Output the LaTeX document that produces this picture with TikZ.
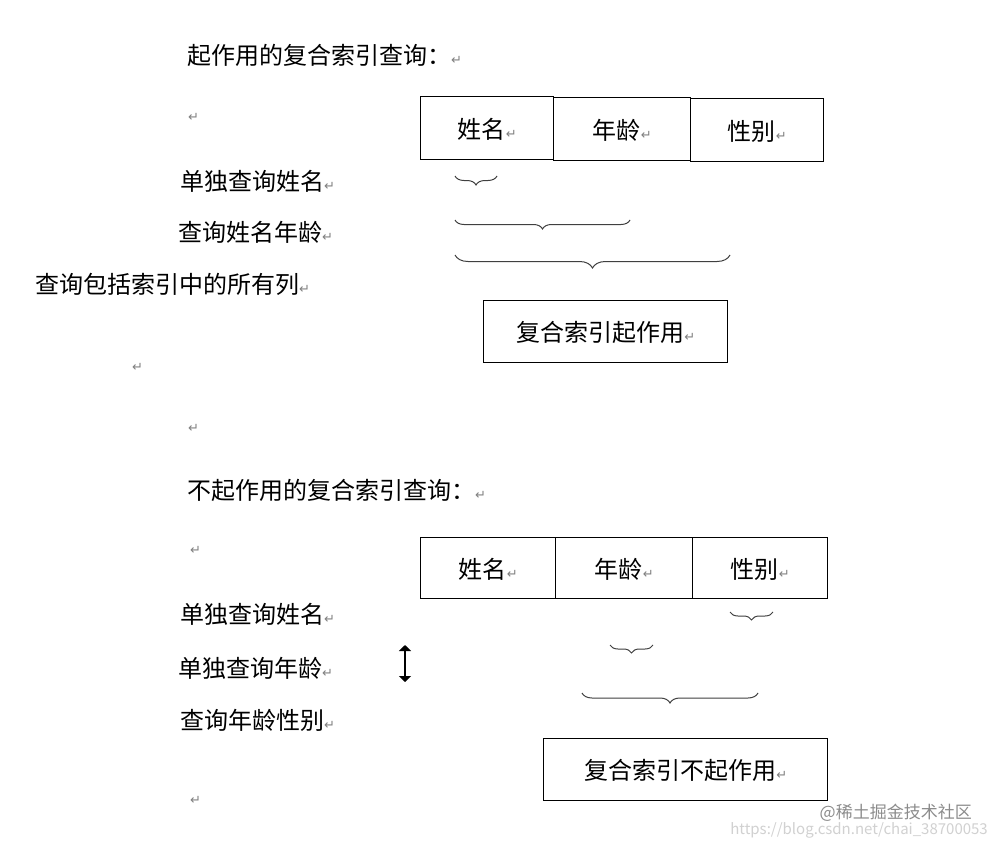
\documentclass[tikz,border=0pt]{standalone}
\usepackage{fontspec}
\setmainfont{Noto Sans CJK SC}
\newfontfamily\symf{DejaVu Sans}
\usetikzlibrary{decorations.pathreplacing,arrows.meta}
\newcommand{\ret}{{\symf\fontsize{13}{13}\selectfont\color{gray}↵}}
\tikzset{
 txt/.style={anchor=west,inner sep=0pt,font=\fontsize{24}{26}\selectfont},
 cell/.style={draw,line width=1.4pt,minimum height=63pt,anchor=north west,inner sep=0pt,font=\fontsize{24}{26}\selectfont,text depth=0pt},
 br/.style={decorate,decoration={brace,amplitude=9pt},line width=1pt,draw=black!75},
}
\begin{document}
\begin{tikzpicture}[x=1pt,y=-1pt]
\useasboundingbox[fill=white] (0,0) rectangle (996,848);
% top
\node[txt] (t1) at (187,55) {起作用的复合索引查询：\ret};
\node[txt] (r1) at (188,117) {\ret};
\node[cell,minimum width=133pt] (a1) at (420,96) {姓名\ret};
\node[cell,minimum width=137pt] (a2) at (553,97) {年龄\ret};
\node[cell,minimum width=133pt] (a3) at (690,98) {性别\ret};
\node[txt] (q1) at (180,181) {单独查询姓名\ret};
\node[txt] (q2) at (178,232) {查询姓名年龄\ret};
\node[txt] (q3) at (35,284) {查询包括索引中的所有列\ret};
\coordinate (b1a) at (497,176); \coordinate (b1b) at (455,176);
\coordinate (b2a) at (630,220); \coordinate (b2b) at (455,220);
\coordinate (b3a) at (730,255); \coordinate (b3b) at (455,255);
\draw[br] (b1a) -- (b1b);
\draw[br] (b2a) -- (b2b);
\draw[br,decoration={amplitude=13pt}] (b3a) -- (b3b);
\node[cell,minimum width=244pt,minimum height=62pt] (res1) at (483,300) {复合索引起作用\ret};
\node[txt] (r2) at (132,367) {\ret};
\node[txt] (r3) at (188,428) {\ret};
% bottom
\node[txt] (t2) at (187,490) {不起作用的复合索引查询：\ret};
\node[txt] (r4) at (190,550) {\ret};
\node[cell,minimum width=135pt,minimum height=61pt] (c1) at (420,537) {姓名\ret};
\node[cell,minimum width=137pt,minimum height=61pt] (c2) at (555,537) {年龄\ret};
\node[cell,minimum width=135pt,minimum height=61pt] (c3) at (692,537) {性别\ret};
\node[txt] (p1) at (180,614) {单独查询姓名\ret};
\node[txt] (p2) at (178,668) {单独查询年龄\ret};
\node[txt] (p3) at (180,720) {查询年龄性别\ret};
\coordinate (u1) at (405,645); \coordinate (u2) at (405,682);
\draw[{Triangle[width=12pt,length=6pt]}-{Triangle[width=12pt,length=6pt]},line width=1.8pt] (u1) -- (u2);
\coordinate (d1a) at (773,612); \coordinate (d1b) at (730,612);
\coordinate (d2a) at (653,645); \coordinate (d2b) at (610,645);
\coordinate (d3a) at (758,693); \coordinate (d3b) at (582,693);
\draw[br,decoration={amplitude=8pt}] (d1a) -- (d1b);
\draw[br,decoration={amplitude=8pt}] (d2a) -- (d2b);
\draw[br,decoration={amplitude=10pt}] (d3a) -- (d3b);
\node[cell,minimum width=284pt,minimum height=62pt] (res2) at (543,738) {复合索引不起作用\ret};
\node[txt] (r5) at (190,800) {\ret};
% watermark
\node[anchor=east,inner sep=0pt,text=black!45,font=\fontsize{17}{17}\selectfont] (w1) at (972,813) {@稀土掘金技术社区};
\node[anchor=east,inner sep=0pt,text=black!18,font=\fontsize{15}{15}\selectfont] (w2) at (988,830) {https://blog.csdn.net/chai\_38700053};
\end{tikzpicture}
\end{document}
